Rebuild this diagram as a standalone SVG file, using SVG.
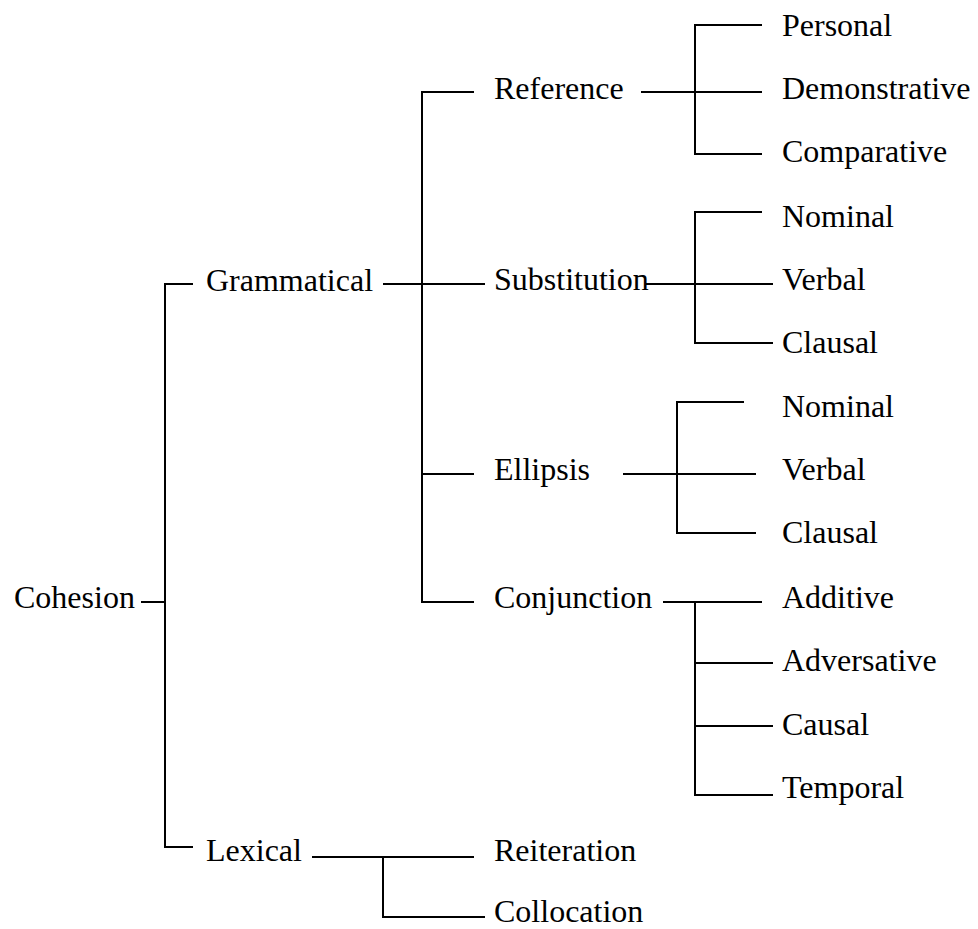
<svg xmlns="http://www.w3.org/2000/svg" width="978" height="929" viewBox="0 0 978 929">
<style>
text{font-family:"Liberation Serif","Times New Roman",serif;font-size:32px;fill:#000}
.c line,.c path{stroke:#000;stroke-width:2;fill:none}
</style>
<rect width="978" height="929" fill="#fff"/>
<g class="c" id="connectors">
<line x1="141" y1="602" x2="165" y2="602"/>
<path d="M193,284 H165 V847 H193"/>
<line x1="383" y1="284" x2="485" y2="284"/>
<path d="M474,92 H422 V602 H474"/>
<line x1="422" y1="474" x2="474" y2="474"/>
<line x1="641" y1="92" x2="762" y2="92"/>
<path d="M762,25 H695 V154 H762"/>
<line x1="645" y1="284" x2="773" y2="284"/>
<path d="M762,212 H695 V343 H773"/>
<line x1="623" y1="474" x2="756" y2="474"/>
<path d="M744,402 H677 V533 H756"/>
<line x1="663" y1="602" x2="762" y2="602"/>
<path d="M695,602 V795 H773"/>
<line x1="695" y1="663" x2="773" y2="663"/>
<line x1="695" y1="726" x2="773" y2="726"/>
<line x1="312" y1="857" x2="474" y2="857"/>
<path d="M383,857 V917 H485"/>
</g>
<g id="n-cohesion"><text x="14" y="608">Cohesion</text></g>
<g id="n-grammatical"><text x="206" y="291">Grammatical</text></g>
<g id="n-lexical"><text x="206" y="861">Lexical</text></g>
<g id="n-reference"><text x="494" y="99">Reference</text></g>
<g id="n-substitution"><text x="494" y="290">Substitution</text></g>
<g id="n-ellipsis"><text x="494" y="480">Ellipsis</text></g>
<g id="n-conjunction"><text x="494" y="608">Conjunction</text></g>
<g id="n-reiteration"><text x="494" y="861">Reiteration</text></g>
<g id="n-collocation"><text x="494" y="922">Collocation</text></g>
<g id="n-personal"><text x="782" y="36">Personal</text></g>
<g id="n-demonstrative"><text x="782" y="99">Demonstrative</text></g>
<g id="n-comparative"><text x="782" y="162">Comparative</text></g>
<g id="n-sub-nominal"><text x="782" y="227">Nominal</text></g>
<g id="n-sub-verbal"><text x="782" y="290">Verbal</text></g>
<g id="n-sub-clausal"><text x="782" y="353">Clausal</text></g>
<g id="n-ell-nominal"><text x="782" y="417">Nominal</text></g>
<g id="n-ell-verbal"><text x="782" y="480">Verbal</text></g>
<g id="n-ell-clausal"><text x="782" y="543">Clausal</text></g>
<g id="n-additive"><text x="782" y="608">Additive</text></g>
<g id="n-adversative"><text x="782" y="671">Adversative</text></g>
<g id="n-causal"><text x="782" y="735">Causal</text></g>
<g id="n-temporal"><text x="782" y="798">Temporal</text></g>
</svg>
